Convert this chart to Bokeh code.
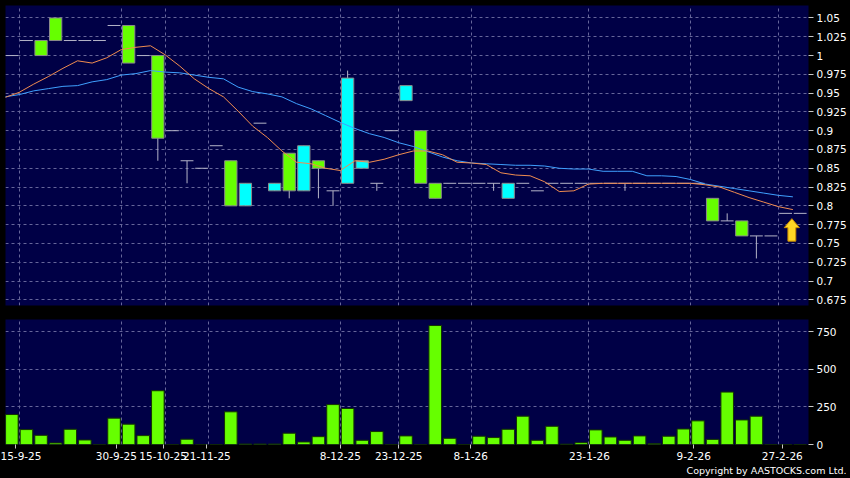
import numpy as np
from bokeh.plotting import figure
from bokeh.layouts import column
from bokeh.models import ColumnDataSource, Range1d, FixedTicker, CustomJSTickFormatter, Title
from bokeh.core.properties import value
from bokeh.embed import file_html
from bokeh.resources import INLINE

# ---------------- data ----------------
opens = [1.00, 1.02, 1.02, 1.05, 1.02, 1.02, 1.02, 1.04, 1.04, 1.00,
         1.00, 0.90, 0.86, 0.85, 0.88, 0.86, 0.80, 0.91, 0.82, 0.87,
         0.82, 0.86, 0.82, 0.83, 0.85, 0.83, 0.90, 0.94, 0.90, 0.83,
         0.83, 0.83, 0.83, 0.83, 0.81, 0.83, 0.82, 0.83, 0.83, 0.83,
         0.83, 0.83, 0.83, 0.83, 0.83, 0.83, 0.83, 0.83, 0.81, 0.78,
         0.78, 0.76, 0.76, 0.79, 0.79]
highs = [1.00, 1.02, 1.02, 1.05, 1.02, 1.02, 1.02, 1.04, 1.04, 1.00,
         1.00, 0.90, 0.86, 0.85, 0.88, 0.86, 0.83, 0.91, 0.83, 0.87,
         0.88, 0.86, 0.82, 0.98, 0.86, 0.83, 0.90, 0.96, 0.90, 0.83,
         0.83, 0.83, 0.83, 0.83, 0.83, 0.83, 0.82, 0.83, 0.83, 0.83,
         0.83, 0.83, 0.83, 0.83, 0.83, 0.83, 0.83, 0.83, 0.81, 0.79,
         0.78, 0.76, 0.76, 0.79, 0.79]
lows = [1.00, 1.02, 1.00, 1.02, 1.02, 1.02, 1.02, 1.04, 0.99, 1.00,
        0.86, 0.90, 0.83, 0.85, 0.88, 0.80, 0.80, 0.91, 0.82, 0.81,
        0.82, 0.81, 0.80, 0.83, 0.85, 0.82, 0.90, 0.94, 0.83, 0.81,
        0.83, 0.83, 0.83, 0.82, 0.81, 0.83, 0.82, 0.83, 0.83, 0.83,
        0.83, 0.83, 0.82, 0.83, 0.83, 0.83, 0.83, 0.83, 0.78, 0.78,
        0.76, 0.73, 0.76, 0.79, 0.79]
closes = [1.00, 1.02, 1.00, 1.02, 1.02, 1.02, 1.02, 1.04, 0.99, 1.00,
          0.89, 0.90, 0.86, 0.85, 0.88, 0.80, 0.83, 0.91, 0.83, 0.82,
          0.88, 0.85, 0.82, 0.97, 0.86, 0.83, 0.90, 0.96, 0.83, 0.81,
          0.83, 0.83, 0.83, 0.83, 0.83, 0.83, 0.82, 0.83, 0.83, 0.83,
          0.83, 0.83, 0.83, 0.83, 0.83, 0.83, 0.83, 0.83, 0.78, 0.78,
          0.76, 0.76, 0.76, 0.79, 0.79]
volumes = [199, 99, 61, 10, 101, 30, 0, 175, 135, 59,
           357, 0, 35, 0, 0, 217, 3, 3, 3, 75,
           17, 52, 265, 239, 28, 86, 0, 57, 0, 790,
           41, 0, 55, 46, 101, 188, 28, 121, 2, 12,
           97, 50, 28, 57, 5, 55, 103, 157, 34, 348,
           163, 188, 0, 0, 0]
ma_short = [0.944, 0.951, 0.962, 0.972, 0.983, 0.993, 0.990, 0.997, 1.008, 1.011,
            1.013, 1.001, 0.986, 0.969, 0.956, 0.945, 0.926, 0.906, 0.891, 0.873,
            0.858, 0.856, 0.850, 0.847, 0.860, 0.858, 0.862, 0.868, 0.873, 0.873,
            0.868, 0.858, 0.857, 0.855, 0.844, 0.841, 0.840, 0.832, 0.819, 0.820,
            0.829, 0.830, 0.830, 0.830, 0.830, 0.830, 0.830, 0.830, 0.828, 0.825,
            0.818, 0.811, 0.805, 0.799, 0.795]
ma_long = [0.945, 0.948, 0.953, 0.956, 0.959, 0.960, 0.965, 0.968, 0.974, 0.976,
           0.980, 0.978, 0.977, 0.974, 0.971, 0.969, 0.958, 0.952, 0.949, 0.945,
           0.936, 0.929, 0.920, 0.911, 0.903, 0.896, 0.891, 0.884, 0.879, 0.872,
           0.865, 0.860, 0.857, 0.856, 0.855, 0.854, 0.854, 0.853, 0.850, 0.849,
           0.849, 0.846, 0.846, 0.846, 0.840, 0.840, 0.839, 0.835, 0.829, 0.826,
           0.823, 0.820, 0.817, 0.814, 0.812]
date_tick_pos = [1, 8, 11, 14, 23, 27, 32, 40, 47, 53]
date_tick_labels = ["15-9-25", "30-9-25", "15-10-25", "21-11-25", "8-12-25",
                    "23-12-25", "8-1-26", "23-1-26", "9-2-26", "27-2-26"]
price_ticks = [0.675, 0.7, 0.725, 0.75, 0.775, 0.8, 0.825, 0.85, 0.875, 0.9,
               0.925, 0.95, 0.975, 1.0, 1.025, 1.05]
volume_ticks = [0, 250, 500, 750]
arrow_x = 53.93
arrow_tip, arrow_head_base, arrow_tail = 0.783, 0.771, 0.753
copyright_text = "Copyright by AASTOCKS.com Ltd."

# ---------------- styles ----------------
BG = "#000000"
PANEL = "#000046"
GRID = "#66669a"
GREEN = "#66ff00"
CYAN = "#00ffff"
DOJI = "#b4b4c8"
FONT = "DejaVu Sans"
SLOT_PX = 14.6
label_shift_px = [-4, -5, -2, -2, 0, 0, -1, 1, 3, 4]   # date labels sit slightly off the grid lines

O = np.array(opens); H = np.array(highs); L = np.array(lows); C = np.array(closes)
n = len(O)
x = np.arange(n) + 0.5

body_mask = C != O
body = ColumnDataSource(dict(
    x=x[body_mask],
    top=np.maximum(O, C)[body_mask],
    bottom=np.minimum(O, C)[body_mask],
    color=np.where(C > O, CYAN, GREEN)[body_mask],
))
wick_mask = H > L
wick = ColumnDataSource(dict(x=x[wick_mask], hi=H[wick_mask], lo=L[wick_mask]))
doji_mask = C == O
doji = ColumnDataSource(dict(x0=x[doji_mask] - 0.44, x1=x[doji_mask] + 0.44, y=O[doji_mask]))
ma_src = ColumnDataSource(dict(x=np.arange(n), s=ma_short, l=ma_long))
vol_src = ColumnDataSource(dict(x=x, v=volumes))

x_range = Range1d(0.065, 55.07)
axis_tick_pos = [g + d / SLOT_PX for g, d in zip(date_tick_pos, label_shift_px)]


def style_axis(ax):
    ax.axis_line_color = None
    ax.major_tick_line_color = "#c8c8c8"
    ax.major_tick_in = 0
    ax.major_tick_out = 5
    ax.minor_tick_line_color = None
    ax.major_label_text_color = "#ffffff"
    ax.major_label_text_font = FONT
    ax.major_label_text_font_size = "10.5px"
    ax.major_label_standoff = 3


def style_grid(g):
    g.grid_line_color = GRID
    g.grid_line_dash = "3 3"
    g.grid_line_width = 1


# ---------------- price panel ----------------
p = figure(width=850, height=318, x_range=x_range, y_range=Range1d(0.6674, 1.0666),
           output_backend="svg", toolbar_location=None,
           x_axis_location=None, y_axis_location="right",
           min_border_left=5, min_border_top=5, min_border_right=42, min_border_bottom=13,
           background_fill_color=PANEL, border_fill_color=BG, outline_line_color=None)
p.yaxis.ticker = FixedTicker(ticks=price_ticks)
p.yaxis.formatter = CustomJSTickFormatter(code="return Number(tick.toFixed(3)).toString();")
style_axis(p.yaxis[0])
p.ygrid.ticker = FixedTicker(ticks=price_ticks)
p.xgrid.ticker = FixedTicker(ticks=date_tick_pos)
style_grid(p.xgrid[0]); style_grid(p.ygrid[0])

p.segment(x0="x", y0="hi", x1="x", y1="lo", source=wick, line_color=DOJI, line_width=1)
p.segment(x0="x0", y0="y", x1="x1", y1="y", source=doji, line_color=DOJI, line_width=1)
p.vbar(x="x", width=0.84, top="top", bottom="bottom", source=body,
       fill_color="color", line_color="#8a8a8a", line_width=1)
p.line("x", "l", source=ma_src, line_color="#3fa0ff", line_width=1)
p.line("x", "s", source=ma_src, line_color="#f08c50", line_width=1)

# arrow marker
hw, sw = 0.52, 0.27
ax_pts = [arrow_x, arrow_x + hw, arrow_x + sw, arrow_x + sw, arrow_x - sw, arrow_x - sw, arrow_x - hw]
ay_pts = [arrow_tip, arrow_head_base, arrow_head_base, arrow_tail, arrow_tail, arrow_head_base, arrow_head_base]
p.patch(ax_pts, ay_pts, fill_color="#ffd624", line_color="#c98a00", line_width=1)

# ---------------- volume panel ----------------
v = figure(width=850, height=160, x_range=x_range, y_range=Range1d(0, 830),
           output_backend="svg", toolbar_location=None, y_axis_location="right",
           min_border_left=5, min_border_top=1, min_border_right=42, min_border_bottom=34,
           background_fill_color=PANEL, border_fill_color=BG, outline_line_color=None)
v.vbar(x="x", width=0.86, top="v", bottom=0, source=vol_src,
       fill_color=GREEN, line_color="#143300", line_width=1)
v.yaxis.ticker = FixedTicker(ticks=volume_ticks)
style_axis(v.yaxis[0])
v.xaxis.ticker = FixedTicker(ticks=axis_tick_pos)
v.xaxis.formatter = CustomJSTickFormatter(
    args=dict(pos=axis_tick_pos, labels=date_tick_labels),
    code="""
let best = 0, bd = 1e9;
for (let i = 0; i < pos.length; i++) {
  const d = Math.abs(pos[i] - tick);
  if (d < bd) { bd = d; best = i; }
}
return labels[best];
""")
style_axis(v.xaxis[0])
v.xaxis.major_tick_out = 4
v.ygrid.ticker = FixedTicker(ticks=volume_ticks)
v.xgrid.ticker = FixedTicker(ticks=date_tick_pos)
style_grid(v.xgrid[0]); style_grid(v.ygrid[0])

v.add_layout(Title(text=copyright_text, align="right", text_color="#ffffff",
                   text_font=FONT, text_font_size="9.5px", text_font_style="normal",
                   standoff=0, offset=-38), "below")

layout = column(p, v, spacing=0, background=BG)
open("out.html", "w").write(file_html(layout, INLINE))
